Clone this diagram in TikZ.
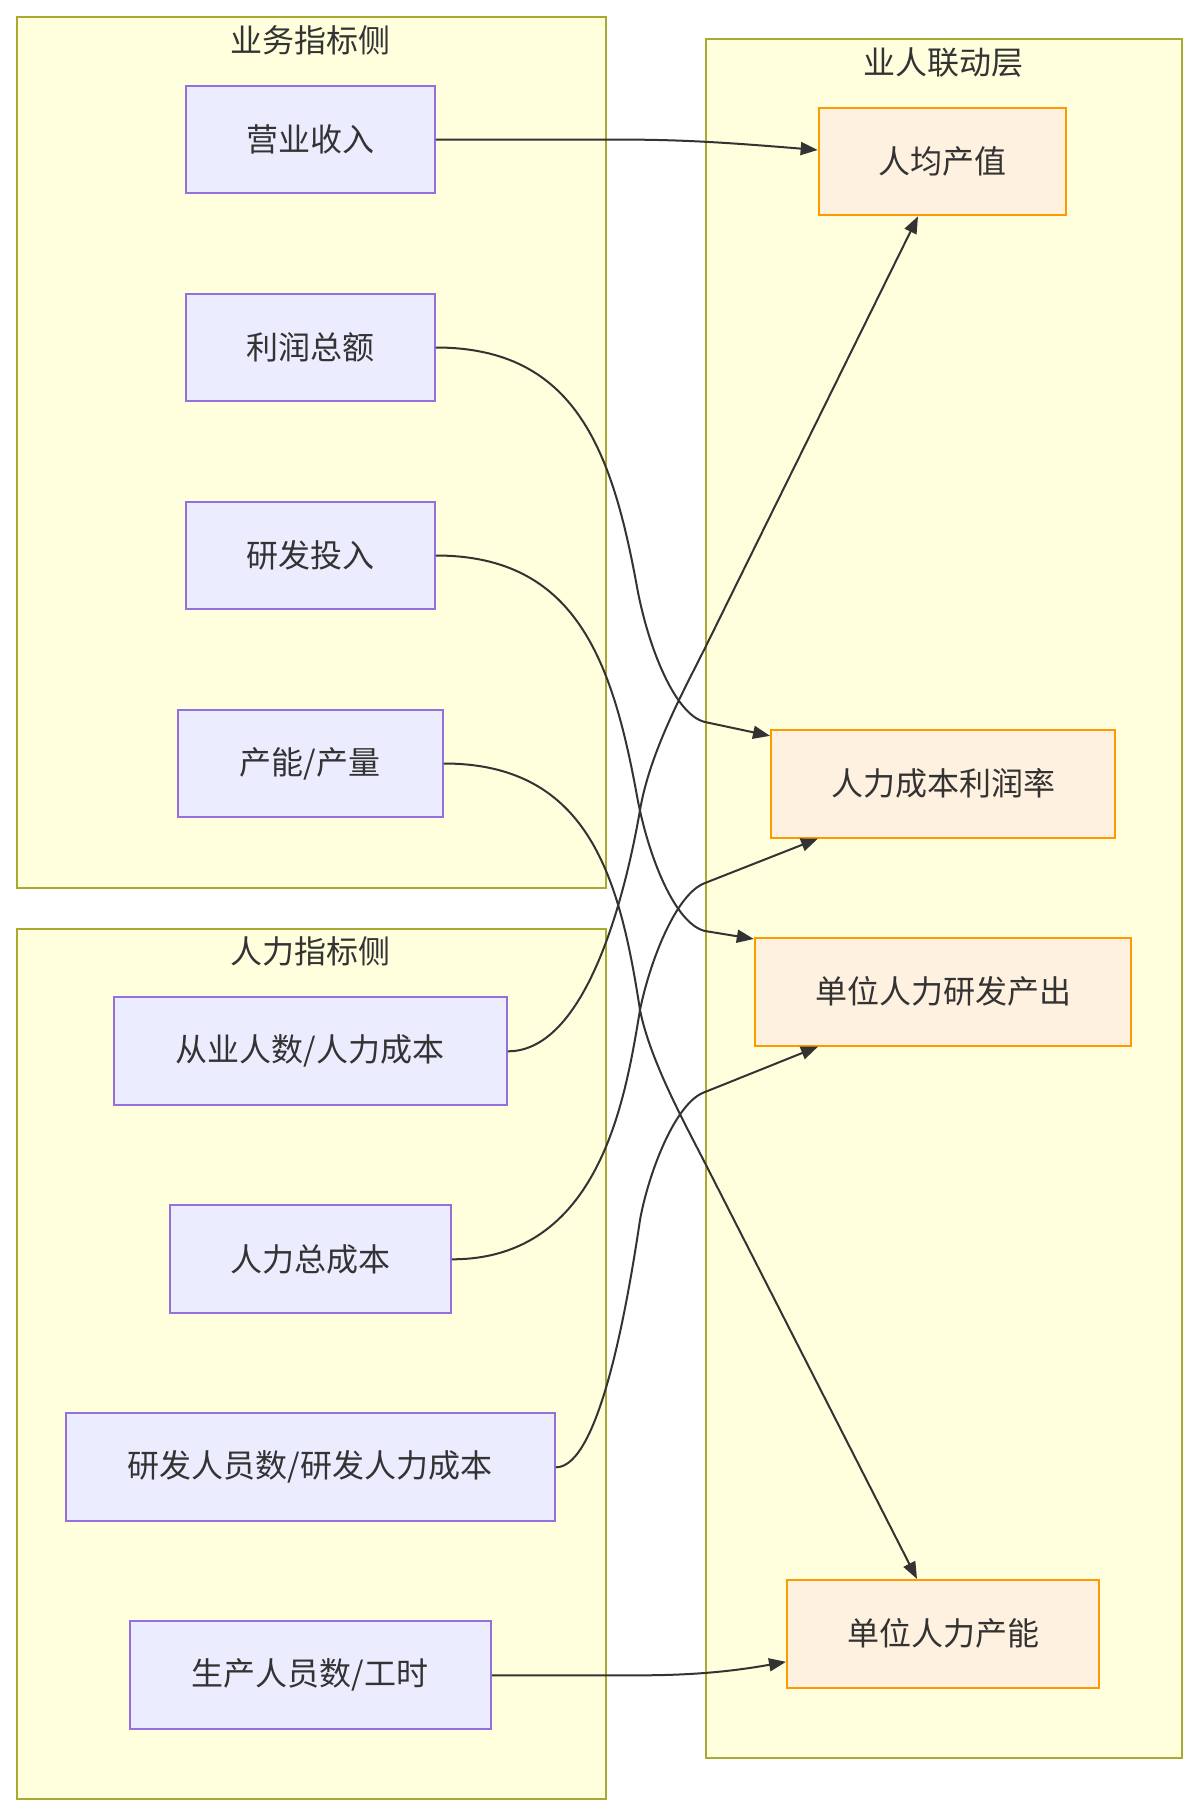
\documentclass[tikz,border=0pt]{standalone}
\usepackage{fontspec}
\newfontfamily\cjk{Noto Sans CJK SC}
\usetikzlibrary{arrows.meta}
\definecolor{clfill}{HTML}{FFFFDE}
\definecolor{cldraw}{HTML}{AAAA33}
\definecolor{lfill}{HTML}{ECECFF}
\definecolor{ldraw}{HTML}{9370DB}
\definecolor{rfill}{HTML}{FFF1DF}
\definecolor{rdraw}{HTML}{FF9900}
\definecolor{txt}{HTML}{333333}
\begin{document}
\begin{tikzpicture}[x=1pt,y=-1pt,
  cluster/.style={draw=cldraw, fill=clfill, line width=2pt, inner sep=0pt, anchor=north west},
  ctitle/.style={font=\cjk\fontsize{32}{38}\selectfont, text=txt, inner sep=0pt},
  lnode/.style={draw=ldraw, fill=lfill, line width=2pt, minimum height=107.7pt, inner sep=0pt, font=\cjk\fontsize{32}{38}\selectfont, text=txt},
  rnode/.style={draw=rdraw, fill=rfill, line width=2pt, minimum height=107.7pt, inner sep=0pt, font=\cjk\fontsize{32}{38}\selectfont, text=txt},
  conn/.style={draw=txt, line width=2pt, -{Triangle[length=17pt,width=13pt]}}
]
\useasboundingbox[fill=white] (0,0) rectangle (1196,1816);

% clusters
\node[cluster, minimum width=588.5pt, minimum height=871pt] (ca) at (16,16) {};
\node[cluster, minimum width=588.5pt, minimum height=870.5pt] (cb) at (16,927.5) {};
\node[cluster, minimum width=476pt, minimum height=1719pt] (cc) at (705,38) {};
\node[ctitle] (ta) at (310.25,40) {业务指标侧};
\node[ctitle] (tb) at (310.25,951.5) {人力指标侧};
\node[ctitle] (tc) at (943,63) {业人联动层};

% left nodes
\node[lnode, minimum width=249.4pt] (yysr) at (310.25,139.5) {营业收入};
\node[lnode, minimum width=249.4pt] (lrze) at (310.25,347.5) {利润总额};
\node[lnode, minimum width=249.4pt] (yftr) at (310.25,555.5) {研发投入};
\node[lnode, minimum width=265.4pt] (cncl) at (310.25,763.5) {产能/产量};
\node[lnode, minimum width=393.4pt] (cyrs) at (310.25,1051.3) {从业人数/人力成本};
\node[lnode, minimum width=281.4pt] (rlzcb) at (310.25,1259.3) {人力总成本};
\node[lnode, minimum width=489.4pt] (yfry) at (310.25,1467.3) {研发人员数/研发人力成本};
\node[lnode, minimum width=361.4pt] (scry) at (310.25,1675.3) {生产人员数/工时};

% right nodes
\node[rnode, minimum width=247.7pt] (rjcz) at (942.5,161.5) {人均产值};
\node[rnode, minimum width=344pt] (rlr) at (943,783.7) {人力成本利润率};
\node[rnode, minimum width=376.4pt] (dyyf) at (943,991.8) {单位人力研发产出};
\node[rnode, minimum width=312pt] (dycn) at (943,1633.8) {单位人力产能};

% edges
\draw[conn] (yysr.east) -- (610,139.5) .. controls (680,139.5) and (720,142) .. ([yshift=11.5pt]rjcz.west);
\draw[conn] (lrze.east) .. controls (575,347.5) and (612,450) .. (637,587) .. controls (648,647) and (675,715) .. (705,722) -- ([yshift=-7pt]rlr.north west);
\draw[conn] (yftr.east) .. controls (575,555.5) and (612,659) .. (637,796) .. controls (648,856) and (675,924) .. (705,931) -- ([yshift=-2pt]dyyf.north west);
\draw[conn] (cncl.east) .. controls (590,763.5) and (620,880) .. (640,1010) .. controls (650,1060) and (684,1122) .. (705,1163) -- ([xshift=-26pt]dycn.north);
\draw[conn] (cyrs.east) .. controls (590,1051.3) and (628,880) .. (640,810) .. controls (650,752) and (683,692) .. (705,648) -- ([xshift=-24.5pt]rjcz.south);
\draw[conn] (rlzcb.east) .. controls (600,1259.3) and (625,1100) .. (640,1010) .. controls (649,965) and (675,894) .. (705,883) -- ([xshift=-125pt]rlr.south);
\draw[conn] (yfry.east) .. controls (600,1467.3) and (628,1300) .. (640,1220) .. controls (648,1175) and (675,1102) .. (705,1092) -- ([xshift=-125pt]dyyf.south);
\draw[conn] (scry.east) -- (640,1675.3) .. controls (700,1675.3) and (740,1670) .. ([yshift=-28pt]dycn.west);
\end{tikzpicture}
\end{document}
